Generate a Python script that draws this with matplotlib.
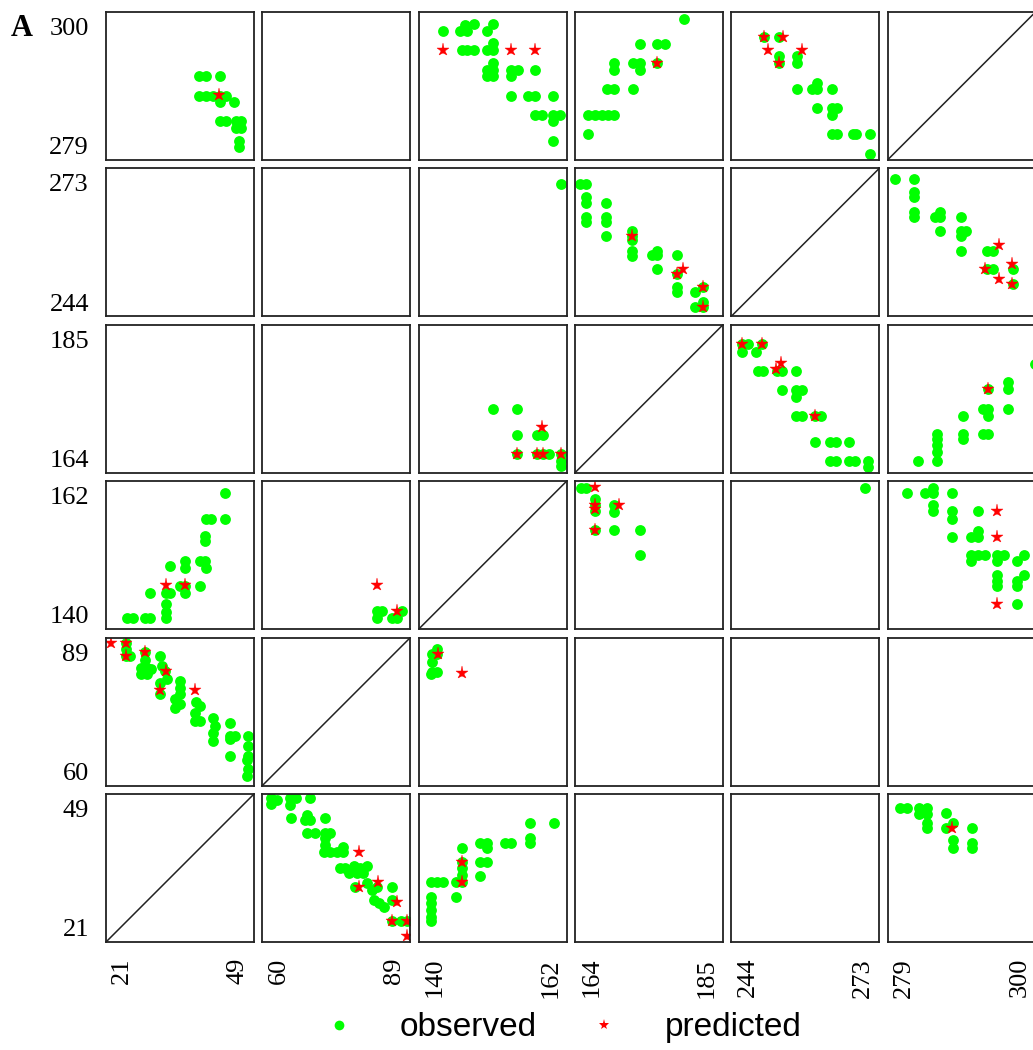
import matplotlib.pyplot as plt
from matplotlib.lines import Line2D

# range of each variable (min, max), in column order left -> right
var_lo = [21, 60, 140, 164, 244, 279]
var_hi = [49, 89, 162, 185, 273, 300]

# observed / predicted points for each panel, named p<row><col>, (x, y) pairs
p00_obs = [(38.6, 290.9), (39.9, 290.9), (42.5, 290.9),
           (38.6, 288.1), (39.9, 288.1), (41.3, 288.1), (42.5, 288.1), (43.7, 288.1),
           (42.5, 287.2), (45.3, 287.2),
           (42.5, 284.5), (43.7, 284.5), (45.6, 284.5), (46.5, 284.5),
           (45.6, 283.6), (46.5, 283.6), (46.2, 281.7), (46.2, 280.8)]
p00_pred = [(42.4, 288.2)]

p02_obs = [(143.7, 297.3), (146.2, 297.3), (146.9, 298.2), (148.2, 298.3), (147.2, 297.3),
           (150.1, 297.3), (151.1, 298.3),
           (146.5, 294.6), (147.2, 294.6), (148.2, 294.6), (150.1, 294.6), (151.1, 294.6), (151.1, 295.6),
           (150.1, 291.8), (150.1, 290.9), (151.1, 291.8), (151.1, 292.8), (151.1, 290.9),
           (153.7, 291.8), (154.8, 291.8), (153.7, 290.9), (157.3, 291.8),
           (153.7, 288.1), (156.3, 288.1), (157.3, 288.1), (160.0, 288.1),
           (157.3, 285.4), (158.3, 285.4), (160.0, 285.4), (161.0, 285.4), (160.0, 284.5),
           (160.0, 281.7)]
p02_pred = [(143.7, 294.6), (153.7, 294.6), (157.3, 294.6)]

p03_obs = [(179.5, 299.0), (173.2, 295.5), (175.7, 295.5), (176.8, 295.5),
           (169.5, 292.8), (169.5, 291.8), (172.2, 292.8), (173.2, 292.8), (173.2, 291.8), (175.7, 292.8),
           (168.6, 289.1), (169.5, 289.1), (172.2, 289.1),
           (165.9, 285.4), (166.8, 285.4), (167.8, 285.4), (168.7, 285.4), (169.6, 285.4),
           (165.9, 282.7)]
p03_pred = [(175.7, 292.8)]

p04_obs = [(250.4, 296.4), (253.3, 296.4), (253.3, 293.7), (253.3, 292.8), (256.9, 293.7), (256.9, 292.8),
           (256.9, 289.1), (259.9, 289.1), (260.9, 289.9), (260.9, 289.1), (263.7, 289.1),
           (260.9, 286.4), (263.7, 286.4), (264.8, 286.4), (263.7, 285.4),
           (263.7, 282.7), (264.8, 282.7), (267.8, 282.7), (268.4, 282.7), (271.2, 282.7),
           (271.2, 279.8)]
p04_pred = [(250.4, 296.4), (254.2, 296.4), (251.3, 294.6), (257.8, 294.6), (253.3, 292.8)]

p12_obs = [(161.2, 269.9)]
p12_pred = []

p13_obs = [(164.7, 269.9), (165.6, 269.9), (165.6, 267.3), (165.6, 266.3), (165.6, 263.4), (165.6, 262.4),
           (168.4, 266.3), (168.4, 263.4), (168.4, 262.4), (168.4, 259.8),
           (172.1, 260.8), (172.1, 259.8), (172.1, 258.9), (172.1, 256.9), (172.1, 255.9),
           (174.9, 256.1), (175.7, 256.9), (175.7, 256.1), (175.7, 253.3),
           (178.5, 256.1), (178.5, 252.4), (178.5, 249.8), (178.5, 248.8),
           (181.1, 248.8), (182.2, 249.7), (181.1, 245.9), (182.2, 245.9), (182.2, 246.9)]
p13_pred = [(172.1, 259.8), (178.5, 252.4), (179.4, 253.3), (182.2, 249.7), (182.2, 245.9)]

p15_obs = [(280.0, 270.9), (282.8, 270.9), (282.8, 268.3), (282.8, 267.3), (282.8, 264.4), (282.8, 263.4),
           (285.7, 263.4), (286.5, 264.4), (286.5, 263.4), (286.5, 260.8),
           (289.4, 263.4), (289.4, 260.8), (289.4, 259.8), (290.2, 260.8), (289.4, 256.9),
           (293.1, 256.9), (293.9, 256.9), (293.1, 253.3), (293.9, 253.3),
           (296.8, 253.3), (296.8, 250.4)]
p15_pred = [(294.8, 258.0), (296.6, 254.3), (292.9, 253.3), (294.8, 251.4), (296.6, 250.4)]

p22_obs = [(151.1, 173.1), (154.7, 173.1), (154.7, 169.4), (157.6, 169.4), (158.5, 169.4),
           (154.7, 166.7), (157.6, 166.7), (158.5, 166.7), (159.4, 166.7), (161.2, 166.7),
           (161.2, 165.7), (161.2, 165.0)]
p22_pred = [(158.3, 170.5), (154.7, 166.7), (157.6, 166.7), (158.5, 166.7), (161.2, 166.7)]

p24_obs = [(246.2, 182.3), (247.3, 182.3), (246.2, 181.1), (248.9, 181.1), (250.0, 182.3),
           (249.2, 178.5), (250.3, 178.5), (252.9, 178.5), (253.9, 178.5), (256.6, 178.5),
           (253.9, 175.8), (256.6, 175.8), (257.8, 175.8), (256.6, 174.7),
           (256.6, 172.1), (257.8, 172.1), (260.4, 172.1), (261.5, 172.1),
           (260.4, 168.4), (263.3, 168.4), (264.5, 168.4), (267.0, 168.4),
           (263.3, 165.7), (264.5, 165.7), (267.0, 165.7), (268.2, 165.7), (270.8, 165.7), (270.8, 164.8)]
p24_pred = [(246.2, 182.3), (250.0, 182.3), (253.7, 179.6), (252.7, 178.7), (260.4, 172.1)]

p25_obs = [(283.3, 165.7), (286.0, 169.5), (286.0, 168.8), (286.0, 167.9), (286.0, 166.9), (286.0, 165.7),
           (289.7, 172.1), (289.7, 169.5), (289.7, 168.8),
           (292.5, 173.1), (293.3, 173.1), (293.3, 172.1), (292.5, 169.5), (293.3, 169.5),
           (293.3, 175.9), (296.1, 176.9), (296.1, 175.9), (296.1, 173.1),
           (299.9, 179.5)]
p25_pred = [(293.3, 175.9)]

p30_obs = [(43.5, 160.2), (39.9, 156.4), (40.8, 156.4), (43.5, 156.4),
           (39.7, 153.9), (39.7, 153.1), (39.7, 150.1), (38.8, 150.1), (39.9, 149.1),
           (35.9, 150.1), (35.9, 149.1), (35.9, 146.4), (35.0, 146.4), (35.9, 145.4), (38.8, 146.4),
           (33.1, 149.4),
           (32.3, 145.4), (33.2, 145.4), (32.3, 143.7), (32.3, 142.5), (32.3, 141.7),
           (29.4, 145.4),
           (24.9, 141.7), (26.2, 141.7), (28.4, 141.7), (29.3, 141.7)]
p30_pred = [(32.3, 146.5), (35.9, 146.5)]

p31_obs = [(82.5, 142.7), (83.4, 142.7), (82.5, 141.7), (85.4, 141.7), (86.4, 141.7), (87.4, 142.7)]
p31_pred = [(82.5, 146.5), (86.3, 142.7)]

p33_obs = [(164.9, 161.0), (165.6, 161.0), (166.8, 159.3), (166.8, 158.4), (166.8, 157.5),
           (169.6, 158.4), (169.6, 157.4), (166.8, 154.7), (169.6, 154.7), (173.2, 154.7), (173.2, 151.0)]
p33_pred = [(166.8, 161.2), (166.8, 158.4), (166.8, 157.8), (166.8, 154.7), (170.3, 158.4)]

p34_obs = [(270.2, 161.0)]
p34_pred = []

p35_obs = [(281.8, 160.2), (284.3, 160.2), (285.5, 161.0), (285.5, 160.2), (288.2, 160.2),
           (285.5, 158.4), (285.5, 157.5), (288.2, 157.5), (288.2, 156.4), (291.8, 157.5),
           (288.2, 153.7), (290.8, 153.7), (291.8, 154.6), (291.8, 153.7),
           (290.8, 151.0), (291.8, 151.0), (292.9, 151.0), (290.8, 150.1), (294.6, 151.0), (295.5, 151.0),
           (294.6, 150.1), (297.4, 150.1), (298.4, 151.0),
           (294.6, 148.1), (294.6, 147.1), (294.6, 146.4), (297.4, 147.1), (298.4, 148.1), (297.4, 146.4),
           (297.4, 143.7)]
p35_pred = [(294.6, 157.5), (294.6, 153.7), (294.6, 143.7)]

p40_obs = [(24.8, 88.0), (24.8, 86.7), (25.5, 85.3), (24.8, 85.3),
           (28.4, 86.2), (28.4, 84.7), (27.7, 83.1), (28.7, 83.1), (27.7, 81.8), (28.7, 81.8), (29.6, 82.8),
           (31.2, 85.3), (31.5, 83.5), (32.2, 82.5), (32.5, 80.8), (31.2, 80.2), (31.2, 77.9),
           (35.0, 80.5), (35.0, 79.2), (35.0, 77.9), (34.0, 76.9), (34.0, 75.3), (35.0, 75.9),
           (38.1, 76.3), (38.8, 75.6), (37.8, 74.3), (37.8, 72.7), (38.8, 72.7),
           (41.3, 73.3), (41.6, 71.7), (41.3, 70.4), (41.3, 68.8),
           (44.4, 72.3), (44.4, 69.7), (44.4, 69.1), (45.4, 69.7), (44.4, 65.8),
           (47.9, 69.7), (47.9, 67.8), (47.9, 65.8), (47.6, 65.1), (47.9, 63.2), (47.6, 61.9)]
p40_pred = [(21.9, 88.0), (24.8, 88.0), (24.8, 85.3), (28.4, 86.2), (32.3, 82.5), (31.2, 78.7), (37.8, 78.7)]

p42_obs = [(142.8, 86.8), (142.0, 85.7), (142.8, 85.7), (142.0, 84.2), (142.0, 82.3), (142.8, 82.3), (141.8, 81.8)]
p42_pred = [(142.9, 85.7), (146.5, 82.0)]

p51_obs = [(61.8, 48.2), (61.8, 47.2), (62.8, 47.9), (65.4, 48.2), (65.4, 46.9), (66.7, 48.2), (69.3, 48.2),
           (65.7, 44.4), (68.7, 45.0), (69.3, 44.1), (68.3, 44.1), (72.3, 44.4),
           (68.7, 41.7), (70.3, 41.7), (72.3, 41.7), (73.3, 41.7), (72.3, 40.6),
           (72.3, 39.4), (72.0, 38.1), (73.3, 38.1), (74.6, 38.1), (75.9, 39.0), (75.9, 38.1),
           (75.2, 35.0), (76.2, 35.0), (77.9, 35.3), (79.2, 35.0), (80.5, 35.3), (76.9, 34.0), (78.5, 34.0),
           (79.8, 34.0), (78.2, 31.5), (80.5, 32.1), (82.5, 31.5), (81.5, 30.9),
           (81.8, 29.0), (82.8, 28.4), (85.4, 31.5), (85.4, 29.0), (83.8, 27.7),
           (85.4, 24.9), (87.1, 24.9), (88.4, 24.9)]
p51_pred = [(78.9, 38.0), (78.9, 31.4), (82.6, 32.4), (86.4, 28.6), (85.4, 24.9), (88.4, 24.9), (88.4, 22.2)]

p52_obs = [(141.8, 32.4), (142.8, 32.4), (143.7, 32.4),
           (141.8, 29.6), (141.8, 28.3), (141.8, 27.1), (141.8, 25.8), (141.8, 24.9),
           (145.5, 29.6), (145.5, 32.4), (146.5, 32.4), (146.5, 33.7), (146.5, 35.0), (146.5, 36.2), (146.5, 38.7),
           (149.2, 33.4), (149.2, 36.2), (150.1, 36.2), (149.2, 39.7), (150.1, 39.7), (150.1, 38.7),
           (152.9, 39.7), (153.8, 39.7),
           (156.5, 43.5), (156.5, 40.6), (156.5, 39.7), (160.2, 43.5)]
p52_pred = [(146.5, 36.2), (146.5, 32.4)]

p55_obs = [(280.8, 46.3), (281.8, 46.3), (283.4, 46.3), (284.6, 46.3), (283.4, 45.2), (284.6, 45.2),
           (284.6, 43.5), (284.6, 42.5),
           (287.3, 45.4), (287.3, 42.5), (288.3, 43.5), (288.3, 40.3), (288.3, 38.7),
           (291.0, 42.5), (291.0, 39.7), (291.0, 38.7)]
p55_pred = [(288.2, 42.5)]

panels = {
    (0, 0): (p00_obs, p00_pred), (0, 2): (p02_obs, p02_pred),
    (0, 3): (p03_obs, p03_pred), (0, 4): (p04_obs, p04_pred),
    (1, 2): (p12_obs, p12_pred), (1, 3): (p13_obs, p13_pred), (1, 5): (p15_obs, p15_pred),
    (2, 2): (p22_obs, p22_pred), (2, 4): (p24_obs, p24_pred), (2, 5): (p25_obs, p25_pred),
    (3, 0): (p30_obs, p30_pred), (3, 1): (p31_obs, p31_pred), (3, 3): (p33_obs, p33_pred),
    (3, 4): (p34_obs, p34_pred), (3, 5): (p35_obs, p35_pred),
    (4, 0): (p40_obs, p40_pred), (4, 2): (p42_obs, p42_pred),
    (5, 1): (p51_obs, p51_pred), (5, 2): (p52_obs, p52_pred), (5, 5): (p55_obs, p55_pred),
}

GREEN = '#00ff00'
RED = '#ff0000'
EDGE = '#222222'
SERIF = ['Liberation Serif', 'DejaVu Serif']

W, H = 1033, 1050
fig = plt.figure(figsize=(W / 100, H / 100), dpi=100)

# panel grid in pixels
left0, top0, pitch_x, pitch_y, size = 106, 12, 156.3, 156.4, 148

for r in range(6):
    for c in range(6):
        ax = fig.add_axes([(left0 + c * pitch_x) / W,
                           1 - (top0 + r * pitch_y + size) / H,
                           size / W, size / H])
        xv, yv = c, 5 - r
        ax.set_xlim(var_lo[xv], var_hi[xv])
        ax.set_ylim(var_lo[yv], var_hi[yv])
        ax.set_xticks([])
        ax.set_yticks([])
        for s in ax.spines.values():
            s.set_linewidth(1.3)
            s.set_color(EDGE)

        if xv == yv:
            ax.plot([var_lo[xv], var_hi[xv]], [var_lo[yv], var_hi[yv]], color=EDGE, lw=1.1)

        if (r, c) in panels:
            obs, pred = panels[(r, c)]
            if obs:
                ox, oy = zip(*obs)
                ax.plot(ox, oy, ls='none', marker='o', ms=7.8, color=GREEN, mec=GREEN, mew=0)
            if pred:
                px, py = zip(*pred)
                ax.plot(px, py, ls='none', marker='*', ms=9.5, color=RED, mec=RED, mew=0.3)

        # only the outer panels carry labels (min and max of each variable)
        if c == 0:
            ax.text(-0.115, 0.885, str(var_hi[yv]), transform=ax.transAxes, ha='right', va='center',
                    fontsize=19, family=SERIF)
            ax.text(-0.115, 0.08, str(var_lo[yv]), transform=ax.transAxes, ha='right', va='center',
                    fontsize=19, family=SERIF)
        if r == 5:
            ax.text(0.11, -0.108, str(var_lo[xv]), transform=ax.transAxes, ha='center', va='top',
                    rotation=90, fontsize=19, family=SERIF)
            ax.text(0.89, -0.108, str(var_hi[xv]), transform=ax.transAxes, ha='center', va='top',
                    rotation=90, fontsize=19, family=SERIF)

fig.text(22 / W, 1 - 28 / H, 'A', ha='center', va='center', fontsize=22, fontweight='bold', family=SERIF)

handles = [Line2D([], [], ls='none', marker='o', ms=7, color=GREEN, mew=0),
           Line2D([], [], ls='none', marker='*', ms=8, color=RED, mew=0)]
fig.legend(handles, ['observed', 'predicted'], loc='center', bbox_to_anchor=(0.536, 0.021),
           ncol=2, frameon=False, handlelength=2.0, handletextpad=0.83, columnspacing=1.0,
           prop={'family': ['Liberation Sans', 'DejaVu Sans'], 'size': 24})

fig.savefig('out.png', dpi=100)
